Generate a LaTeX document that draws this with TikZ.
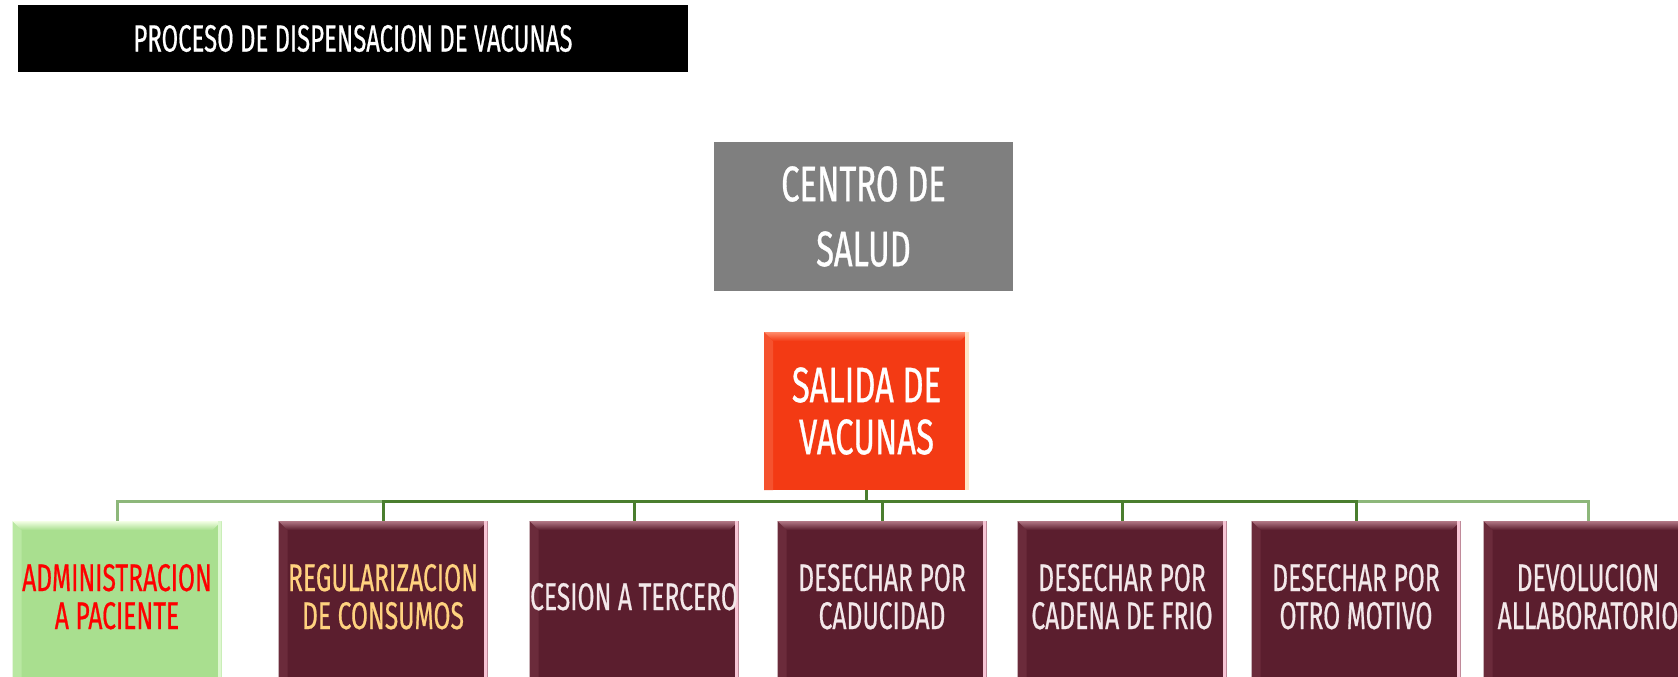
\documentclass[tikz,border=0pt]{standalone}
\usepackage{fontspec}
\setmainfont{Fira Sans}[FakeStretch=0.65,FakeBold=0.5]
\newfontfamily\titlefont{Fira Sans}[FakeStretch=0.63,FakeBold=0.5]
\newfontfamily\bigfont{Fira Sans}[FakeStretch=0.655,FakeBold=0.6]
\newfontfamily\leaffont{Fira Sans}[FakeStretch=0.64,FakeBold=0.5]
\usetikzlibrary{calc}
\definecolor{maroonbase}{HTML}{5B1E2E}
\definecolor{maroontop}{HTML}{B27886}
\definecolor{maroonleft}{HTML}{6B2B3B}
\definecolor{maroonedge}{HTML}{F7C5D5}
\definecolor{greenbase}{HTML}{A9DF8F}
\definecolor{greentop}{HTML}{F4FFE6}
\definecolor{greenleft}{HTML}{B9E8A2}
\definecolor{greenedge}{HTML}{DDF7CF}
\definecolor{salidabase}{HTML}{F33A14}
\definecolor{salidatop}{HTML}{FF8C6C}
\definecolor{salidaleft}{HTML}{F5522E}
\definecolor{salidaedge}{HTML}{FFE4C6}
\definecolor{centrogray}{HTML}{7F7F7F}
\definecolor{boxtext}{HTML}{F3E8EA}
\definecolor{regtext}{HTML}{FFD27F}
\definecolor{conndark}{HTML}{4A7E2E}
\definecolor{connlight}{HTML}{8DB77A}
\tikzset{
  bevel/.style n args={4}{path picture={
    \coordinate (pnw) at (path picture bounding box.north west);
    \coordinate (pne) at (path picture bounding box.north east);
    \coordinate (psw) at (path picture bounding box.south west);
    \coordinate (pse) at (path picture bounding box.south east);
    \fill[#3] (pnw) -- ($(pnw)+(9,9)$) -- ($(psw)+(9,0)$) -- (psw) -- cycle;
    \shade[top color=#1, bottom color=#2] (pnw) -- (pne) -- ($(pne)+(-9,9)$) -- ($(pnw)+(9,9)$) -- cycle;
    \fill[#4] ($(pne)+(-4,0)$) rectangle (pse);
  }},
  leafbox/.style={inner sep=0pt, minimum width=209pt, minimum height=156pt,
    align=center, text depth=5pt, font=\leaffont\fontsize{38.5}{38}\selectfont},
  maroonbox/.style={leafbox, fill=maroonbase, text=boxtext,
    bevel={maroontop}{maroonbase}{maroonleft}{maroonedge}},
  greenbox/.style={leafbox, fill=greenbase, text=red,
    bevel={greentop}{greenbase}{greenleft}{greenedge}},
  conn/.style={draw=conndark, line width=3pt},
  connl/.style={draw=connlight, line width=3pt},
}
\begin{document}
\begin{tikzpicture}[x=1pt,y=-1pt]
\useasboundingbox (0,0) rectangle (1678,677);
\fill[white] (0,0) rectangle (1678,677);
\node[fill=black, text=white, inner sep=0pt, minimum width=670pt, minimum height=67pt,
  font=\titlefont\fontsize{38}{38}\selectfont] (title) at (353,38.5) {PROCESO DE DISPENSACION DE VACUNAS};
\node[fill=centrogray, text=white, inner sep=0pt, minimum width=299pt, minimum height=149pt,
  align=center, font=\bigfont\fontsize{50}{65}\selectfont] (centro) at (863.5,216.5) {CENTRO DE\\SALUD};
\node[fill=salidabase, text=white, inner sep=0pt, minimum width=205pt, minimum height=158pt,
  align=center, font=\bigfont\fontsize{50}{52}\selectfont,
  bevel={salidatop}{salidabase}{salidaleft}{salidaedge}] (salida) at (866.5,411) {SALIDA DE\\VACUNAS};
\node[greenbox] (b1) at (117,599) {ADMINISTRACION\\A PACIENTE};
\node[maroonbox, text=regtext] (b2) at (383,599) {REGULARIZACION\\DE CONSUMOS};
\node[maroonbox] (b3) at (634,599) {CESION A TERCERO};
\node[maroonbox] (b4) at (882,599) {DESECHAR POR\\CADUCIDAD};
\node[maroonbox] (b5) at (1122,599) {DESECHAR POR\\CADENA DE FRIO};
\node[maroonbox] (b6) at (1356,599) {DESECHAR POR\\OTRO MOTIVO};
\node[maroonbox] (b7) at (1588,599) {DEVOLUCION\\ALLABORATORIO};
\coordinate (bus) at (866.5,501);
\draw[connl] (bus) -| (b1.north);
\draw[connl] (bus) -| (b7.north);
\draw[conn] (bus) -| (b2.north);
\draw[conn] (bus) -| (b6.north);
\draw[conn] (bus) -| (b3.north);
\draw[conn] (bus) -| (b5.north);
\draw[conn] (bus) -| (b4.north);
\draw[conn] (salida.south) -- (bus);
\end{tikzpicture}
\end{document}
